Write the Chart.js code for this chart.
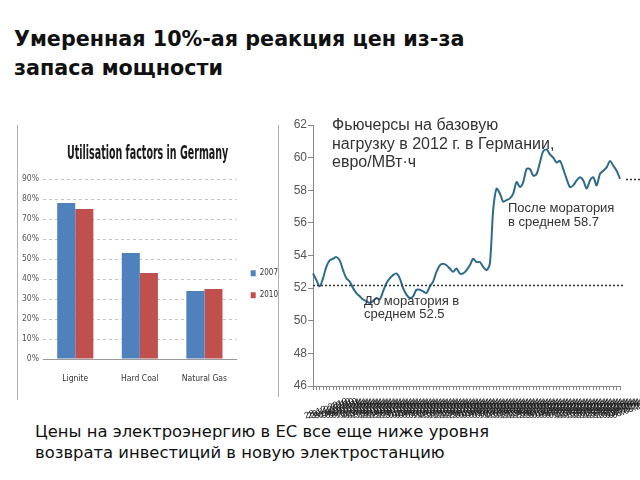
<!DOCTYPE html>
<html>
<head>
<meta charset="utf-8">
<script src="https://cdn.jsdelivr.net/npm/chart.js@4.4.0/dist/chart.umd.min.js"></script>
<style>
  html, body { margin: 0; padding: 0; background: #fff; }
  body { width: 640px; height: 480px; position: relative; overflow: hidden; }
  #slide-title {
    position: absolute; left: 14px; top: 25px;
    font: bold 20.7px "DejaVu Sans", sans-serif; line-height: 29px; color: #111;
  }
  .vline { position: absolute; width: 1px; background: #b0b0b0; }
  #util-box { position: absolute; left: 18px; top: 125px; width: 260px; height: 275px; overflow: hidden; }
  #util-title {
    position: absolute; left: 67px; top: 142px; white-space: nowrap;
    font: bold 19px "DejaVu Sans Condensed", sans-serif; line-height: 20px; color: #1a1a1a;
    transform-origin: 0 0;
  }
  #price-box { position: absolute; left: 280px; top: 110px; width: 360px; height: 310px; }
  .note { position: absolute; font-family: "Liberation Sans", Arial, sans-serif; color: #333; white-space: nowrap; }
  #bottom-text {
    position: absolute; left: 35px; top: 421px;
    font: 16.4px "DejaVu Sans", sans-serif; line-height: 21px; color: #111;
  }
</style>
</head>
<body>

<div id="slide-title">Умеренная 10%-ая реакция цен из-за<br>запаса мощности</div>

<div class="vline" style="left:17px; top:125px; height:275px"></div>
<div class="vline" style="left:278px; top:125px; height:272px"></div>

<div id="util-box"><canvas id="utilChart" width="260" height="275"></canvas></div>
<div id="util-title">Utilisation factors in Germany</div>
<div id="price-box"><canvas id="priceChart" width="360" height="310"></canvas></div>

<div class="note" style="left:332px; top:116px; font-size:16px; line-height:18.5px">Фьючерсы на базовую<br>нагрузку в 2012 г. в Германии,<br>евро/МВт·ч</div>
<div class="note" style="left:508px; top:201px; font-size:13px; line-height:14px">После моратория<br>в среднем 58.7</div>
<div class="note" style="left:364px; top:294px; font-size:13px; line-height:13px">До моратория в<br>среднем 52.5</div>

<div id="bottom-text">Цены на электроэнергию в ЕС все еще ниже уровня<br>возврата инвестиций в новую электростанцию</div>

<script>
// --- Левый график: коэффициенты использования ---
const fuelTypes = ['Lignite', 'Hard Coal', 'Natural Gas'];
const util2007 = [78, 53, 34];
const util2010 = [75, 43, 35];

// --- Правый график: фьючерсы base load 2012 ---
const tradeDates = [
  '28.12.2010', '29.12.2010', '30.12.2010', '31.12.2010',
  '03.01.2011', '04.01.2011', '05.01.2011', '06.01.2011', '07.01.2011',
  '10.01.2011', '11.01.2011', '12.01.2011', '13.01.2011', '14.01.2011',
  '17.01.2011', '18.01.2011', '19.01.2011', '20.01.2011', '21.01.2011',
  '24.01.2011', '25.01.2011', '26.01.2011', '27.01.2011', '28.01.2011', '31.01.2011',
  '01.02.2011', '02.02.2011', '03.02.2011', '04.02.2011',
  '07.02.2011', '08.02.2011', '09.02.2011', '10.02.2011', '11.02.2011',
  '14.02.2011', '15.02.2011', '16.02.2011', '17.02.2011', '18.02.2011',
  '21.02.2011', '22.02.2011', '23.02.2011', '24.02.2011', '25.02.2011', '28.02.2011',
  '01.03.2011', '02.03.2011', '03.03.2011', '04.03.2011',
  '07.03.2011', '08.03.2011', '09.03.2011', '10.03.2011', '11.03.2011',
  '14.03.2011', '15.03.2011', '16.03.2011', '17.03.2011', '18.03.2011',
  '21.03.2011', '22.03.2011', '23.03.2011', '24.03.2011', '25.03.2011',
  '28.03.2011', '29.03.2011', '30.03.2011', '31.03.2011', '01.04.2011',
  '04.04.2011', '05.04.2011', '06.04.2011', '07.04.2011', '08.04.2011',
  '11.04.2011', '12.04.2011', '13.04.2011', '14.04.2011', '15.04.2011',
  '18.04.2011', '19.04.2011', '20.04.2011', '21.04.2011', '22.04.2011',
  '25.04.2011', '26.04.2011', '27.04.2011', '28.04.2011', '29.04.2011',
  '02.05.2011', '03.05.2011', '04.05.2011', '05.05.2011'
];
const futuresPrice = [
  52.9, 52.5, 52.1, 52.6, 53.3, 53.7, 53.8, 53.9, 53.7, 53.1,
  52.6, 52.4, 52.0, 51.7, 51.5, 51.3, 51.2, 51.1, 51.2, 51.4,
  51.3, 51.8, 52.3, 52.6, 52.8, 52.9, 52.6, 52.0, 51.6, 51.4,
  51.5, 51.9, 51.9, 51.8, 51.7, 52.1, 52.4, 53.0, 53.4, 53.5,
  53.4, 53.2, 53.0, 53.2, 52.9, 52.9, 53.1, 53.4, 53.8, 53.6,
  53.6, 53.3, 53.1, 53.5, 56.8, 58.1, 57.8, 57.3, 57.4, 57.5,
  57.8, 58.5, 58.2, 58.5, 59.3, 59.3, 58.9, 59.0, 59.7, 60.4,
  60.5, 60.2, 60.0, 59.7, 59.8, 59.3, 58.7, 58.2, 58.3, 58.6,
  58.8, 58.6, 58.1, 58.6, 58.8, 58.3, 59.0, 59.2, 59.4, 59.8,
  59.5, 59.2, 58.7
];
const priceTicks = [46, 48, 50, 52, 54, 56, 58, 60, 62];
// уровни пунктирных линий (как нарисованы на картинке)
const levelBefore = 52.2;
const levelAfter = 58.7;

const narrow = "'DejaVu Sans Condensed', sans-serif";
const arial = "'Liberation Sans', Arial, sans-serif";

function initCharts() {

    // заголовок левой картинки — узкий шрифт, сжимаем до ширины оригинала
    const ut = document.getElementById('util-title');
    ut.style.transform = 'scaleX(' + (161 / ut.offsetWidth) + ')';

    new Chart(document.getElementById('utilChart'), {
        type: 'bar',
        data: {
            labels: fuelTypes,
            datasets: [
                { label: '2007', data: util2007, backgroundColor: '#4F81BD' },
                { label: '2010', data: util2010, backgroundColor: '#C0504D' }
            ]
        },
        options: {
            responsive: false,
            animation: false,
            layout: { padding: { left: 0, right: -10, top: 54, bottom: 0 } },
            datasets: { bar: { categoryPercentage: 0.56, barPercentage: 1 } },
            plugins: {
                legend: {
                    position: 'right',
                    align: 'start',
                    title: { display: true, text: ' ', font: { size: 1 }, padding: { top: 75, bottom: 0 } },
                    labels: {
                        boxWidth: 5, boxHeight: 6, padding: 14,
                        color: '#333',
                        font: { family: narrow, size: 8 }
                    }
                },
                tooltip: { enabled: false }
            },
            scales: {
                x: {
                    grid: { display: false, drawTicks: false },
                    border: { color: '#999' },
                    ticks: { color: '#333', font: { family: narrow, size: 8.5 }, padding: 15 },
                    afterFit: s => { s.height = 41; }
                },
                y: {
                    min: 0, max: 90,
                    grid: { color: '#c4c4c4', drawTicks: false },
                    border: { display: false, dash: [3, 3] },
                    ticks: {
                        stepSize: 10, padding: 4,
                        color: '#555', font: { family: narrow, size: 8.5 },
                        callback: v => v + '%'
                    },
                    afterFit: s => { s.width = 25; }
                }
            }
        }
    });

    // пунктирные средние уровни
    const levelLines = {
        id: 'levelLines',
        afterDatasetsDraw(chart) {
            const { ctx, chartArea, scales: { y } } = chart;
            ctx.save();
            ctx.setLineDash([2, 2]);
            ctx.strokeStyle = '#333';
            ctx.lineWidth = 1.5;
            let py = Math.round(y.getPixelForValue(levelBefore)) + 0.5;
            ctx.beginPath();
            ctx.moveTo(chartArea.left, py);
            ctx.lineTo(chartArea.right + 5, py);
            ctx.stroke();
            py = Math.round(y.getPixelForValue(levelAfter)) + 0.5;
            ctx.beginPath();
            ctx.moveTo(chartArea.right + 6, py);
            ctx.lineTo(chart.width, py);
            ctx.stroke();
            ctx.restore();
        }
    };

    new Chart(document.getElementById('priceChart'), {
        type: 'line',
        data: {
            labels: tradeDates,
            datasets: [{
                data: futuresPrice,
                borderColor: '#2E6B8B',
                borderWidth: 2,
                pointRadius: 0,
                tension: 0.3,
                fill: false
            }]
        },
        options: {
            responsive: false,
            animation: false,
            layout: { padding: { left: 0, right: 20, top: 15, bottom: 0 } },
            plugins: { legend: { display: false }, tooltip: { enabled: false } },
            scales: {
                x: {
                    grid: { drawOnChartArea: false, tickLength: 4, color: '#888' },
                    border: { color: '#888' },
                    ticks: {
                        autoSkip: false, minRotation: 20, maxRotation: 20,
                        padding: 6, labelOffset: 34, color: '#222',
                        font: { family: arial, size: 9 }
                    },
                    afterFit: s => { s.height = 34; s.paddingLeft = 0; s.paddingRight = 0; }
                },
                y: {
                    min: 46, max: 62,
                    afterBuildTicks: s => { s.ticks = priceTicks.map(v => ({ value: v })); },
                    grid: { drawOnChartArea: false, tickLength: 5, color: '#888' },
                    border: { color: '#888' },
                    ticks: { padding: 1, color: '#555', font: { family: arial, size: 12 } },
                    afterFit: s => { s.width = 33; }
                }
            }
        },
        plugins: [levelLines]
    });
}

if (document.readyState === 'loading') {
    document.addEventListener('DOMContentLoaded', initCharts);
} else {
    initCharts();
}
</script>
</body>
</html>
